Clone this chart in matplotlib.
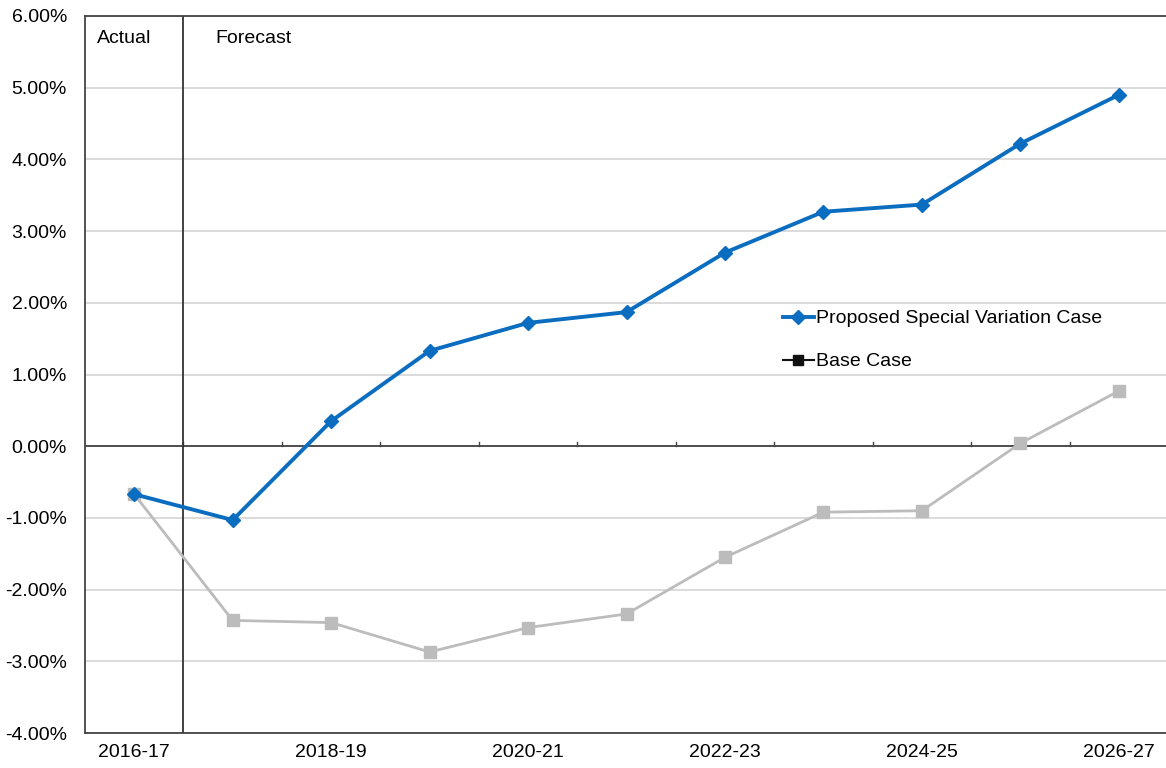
import matplotlib.pyplot as plt
from matplotlib.lines import Line2D
from matplotlib.ticker import FuncFormatter
import numpy as np

years = ["2016-17", "2017-18", "2018-19", "2019-20", "2020-21", "2021-22",
         "2022-23", "2023-24", "2024-25", "2025-26", "2026-27"]
special_variation = [-0.67, -1.03, 0.35, 1.33, 1.72, 1.87, 2.70, 3.27, 3.37, 4.22, 4.90]
base_case = [-0.67, -2.43, -2.46, -2.87, -2.53, -2.34, -1.55, -0.92, -0.90, 0.04, 0.77]

blue = "#0b6dbf"
grey = "#bcbcbc"
fs = 14

plt.rcParams['font.family'] = ['Liberation Sans', 'DejaVu Sans']

fig = plt.figure(figsize=(11.66, 7.68), dpi=100)
ax = fig.add_axes([85 / 1166, 1 - 733 / 768, 1083 / 1166, (733 - 16) / 768])

x = np.arange(len(years))
ax.plot(x, base_case, color=grey, lw=2, marker="s", markersize=8.5, zorder=3)
ax.plot(x, special_variation, color=blue, lw=2.8, marker="D", markersize=7, zorder=4)

ax.set_xlim(-0.5, 10.5)
ax.set_ylim(-4, 6)
ax.set_yticks(np.arange(-4, 7, 1))
ax.yaxis.set_major_formatter(FuncFormatter(lambda v, p: f"{v:.2f}%"))
ax.grid(axis="y", color="#d4d4d4", lw=1.2)
ax.set_axisbelow(True)

ax.set_xticks(x[::2])
ax.set_xticklabels(years[::2])
ax.tick_params(axis="both", length=0, labelsize=fs)
ax.tick_params(axis="y", pad=13)
ax.tick_params(axis="x", pad=8)

# zero line with small ticks between categories
ax.axhline(0, color="#444444", lw=1.3, zorder=2)
for b in np.arange(0.5, 10.5, 1):
    ax.plot([b, b], [0, 0.06], color="#444444", lw=1, zorder=2)

# split between actual and forecast
ax.axvline(0.5, color="#333333", lw=1.3, zorder=2)
ax.text(-0.38, 5.68, "Actual", fontsize=fs, ha="left", va="center")
ax.text(0.82, 5.68, "Forecast", fontsize=fs, ha="left", va="center")

for s in ["left", "top", "bottom"]:
    ax.spines[s].set_color("#444444")
    ax.spines[s].set_linewidth(1.3)
ax.spines["right"].set_visible(False)

handles = [Line2D([], [], color=blue, lw=2.8, marker="D", markersize=7),
           Line2D([], [], color="#111111", lw=1.5, marker="s", markersize=7)]
ax.legend(handles, ["Proposed Special Variation Case", "Base Case"],
          loc="upper left", bbox_to_anchor=(0.637, 0.601), frameon=False,
          fontsize=fs, handlelength=1.6, handletextpad=0.1, labelspacing=1.3,
          borderaxespad=0)

plt.savefig("out.png", dpi=100)
